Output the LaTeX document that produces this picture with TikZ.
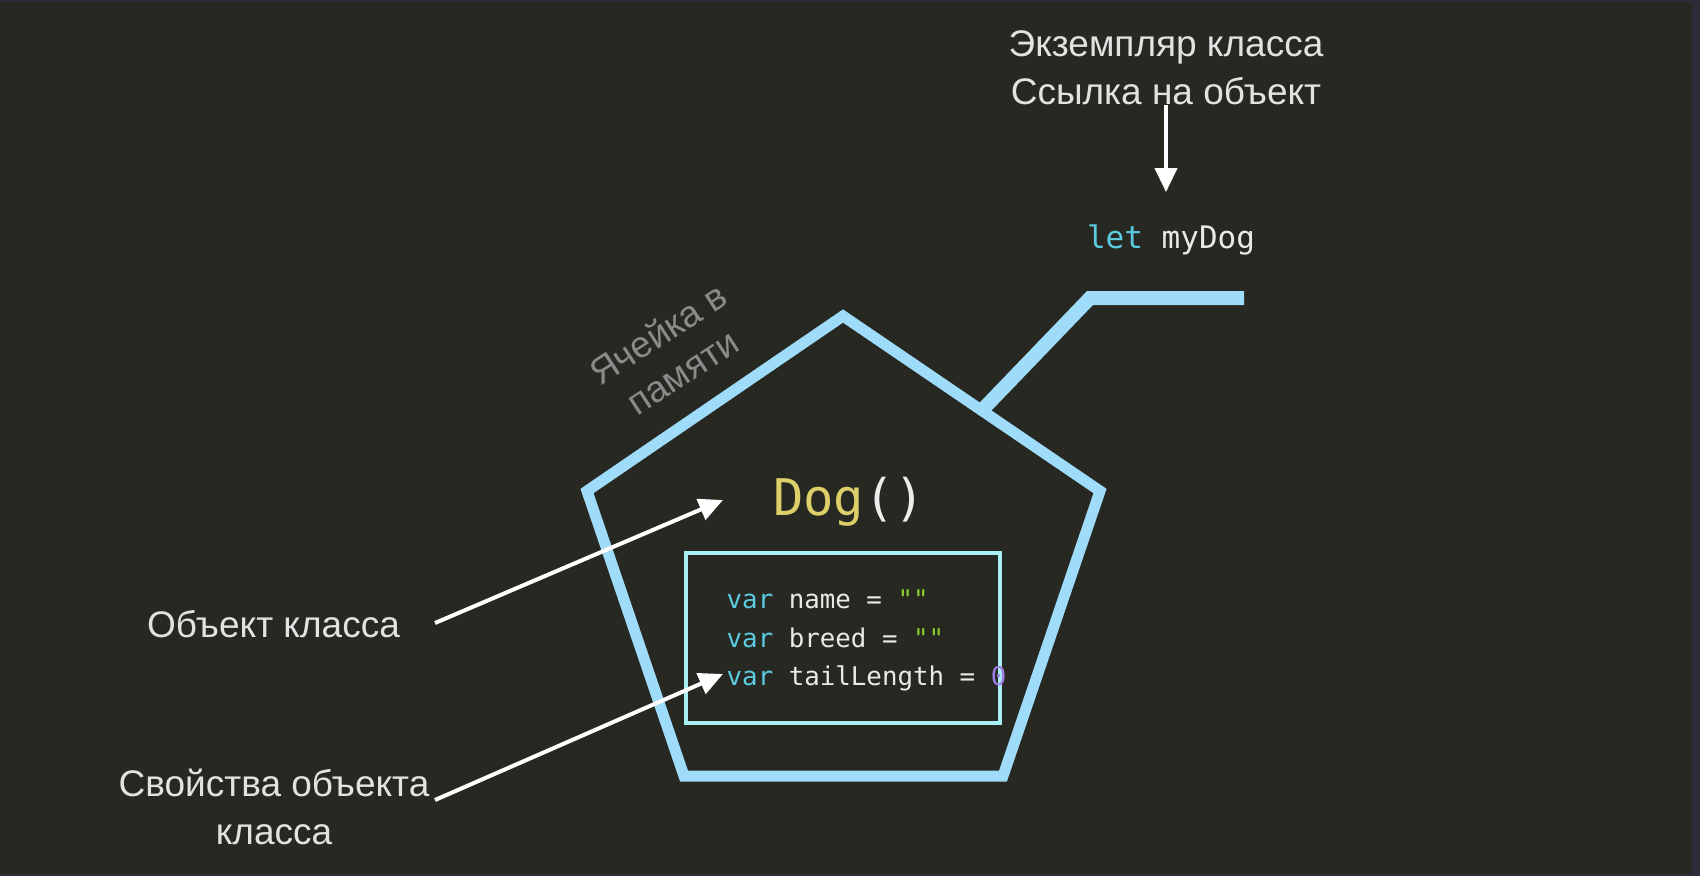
\documentclass[tikz,border=0pt]{standalone}
\usepackage{fontspec}
\setmainfont{Liberation Sans}
\newfontfamily\codefont{DejaVu Sans Mono}
\usetikzlibrary{arrows.meta,calc}
\definecolor{bgcol}{HTML}{272822}
\definecolor{edgecol}{HTML}{2D2C3A}
\definecolor{housecol}{RGB}{158,220,250}
\definecolor{rectcol}{HTML}{A8EEF5}
\definecolor{labelcol}{HTML}{E2E2E2}
\definecolor{cellcol}{HTML}{8A8A8A}
\definecolor{kwcol}{HTML}{5ACBE0}
\definecolor{idcol}{HTML}{EAEAE4}
\definecolor{strcol}{HTML}{8CCB2E}
\definecolor{numcol}{HTML}{A07EE6}
\definecolor{dogcol}{HTML}{DDD06A}
\definecolor{parcol}{HTML}{EDEDED}
\begin{document}
\begin{tikzpicture}[x=1pt,y=-1pt,
  housestroke/.style={draw=housecol, line width=11pt, miter limit=10, line join=miter},
  linkstroke/.style={draw=housecol, line width=14pt, line join=miter},
  labeltext/.style={text=labelcol, font=\fontsize{37}{47.5}\selectfont, align=center, inner sep=0pt},
  celltext/.style={text=cellcol, font=\fontsize{37}{45}\selectfont, align=center, inner sep=0pt},
  codeline/.style={text=idcol, font=\codefont\fontsize{25.8}{30}\selectfont, inner sep=0pt, anchor=base west},
  whitearrow/.style={draw=white, line width=4pt, -{Triangle[length=24pt,width=22pt]}}
]
\useasboundingbox (0,0) rectangle (1700,876);
\fill[bgcol] (0,0) rectangle (1700,876);
\fill[edgecol] (0,0) rectangle (1700,2);
\fill[edgecol] (1692,0) rectangle (1700,876);
\fill[edgecol] (0,874) rectangle (1700,876);

% pentagon (memory cell)
\coordinate (apex) at (843,316);
\coordinate (rv) at (1100,491);
\coordinate (br) at (1003,776);
\coordinate (bl) at (684,776);
\coordinate (lv) at (587,491);
\draw[housestroke] (apex) -- (rv) -- (br) -- (bl) -- (lv) -- cycle;

% link to the variable
\coordinate (jn) at ($(apex)!0.54!(rv)$);
\coordinate (bend) at (1090,298);
\coordinate (barend) at (1244,298);
\draw[linkstroke] (jn) -- (bend) -- (barend);

% properties box
\node[draw=rectcol, line width=4.5pt, minimum width=314pt, minimum height=170pt, inner sep=0pt] (props) at (843,638) {};

% code texts
\node[anchor=base, inner sep=0pt, font=\codefont\fontsize{50.5}{56}\selectfont, text=dogcol] (dog) at (849,515) {Dog\textcolor{parcol}{()}};
\node[codeline] (l1) at (726.5,608) {\textcolor{kwcol}{var} name = \textcolor{strcol}{""}};
\node[codeline] (l2) at (726.5,647) {\textcolor{kwcol}{var} breed = \textcolor{strcol}{""}};
\node[codeline] (l3) at (726.5,685) {\textcolor{kwcol}{var} tailLength = \textcolor{numcol}{0}};
\node[anchor=base, inner sep=0pt, font=\codefont\fontsize{31}{36}\selectfont, text=idcol] (letv) at (1171,248) {\textcolor{kwcol}{let} myDog};

% labels
\node[labeltext, anchor=south] (inst) at (1166,105) {Экземпляр класса\\Ссылка на объект};
\node[labeltext, anchor=base] (objlbl) at (273.5,637) {Объект класса};
\node[labeltext, anchor=south] (proplbl) at (274,845) {Свойства объекта\\класса};
\node[celltext, rotate=33, anchor=south] (cell) at (690,383) {Ячейка в\\памяти};

% arrows
\draw[whitearrow, shorten >=32pt] (inst.south) -- (inst.south |- letv.north);
\coordinate (a1s) at (435,623);
\coordinate (a1e) at (723,500);
\draw[whitearrow] (a1s) -- (a1e);
\coordinate (a2s) at (435,800);
\coordinate (a2e) at (723,674);
\draw[whitearrow] (a2s) -- (a2e);
\end{tikzpicture}
\end{document}
